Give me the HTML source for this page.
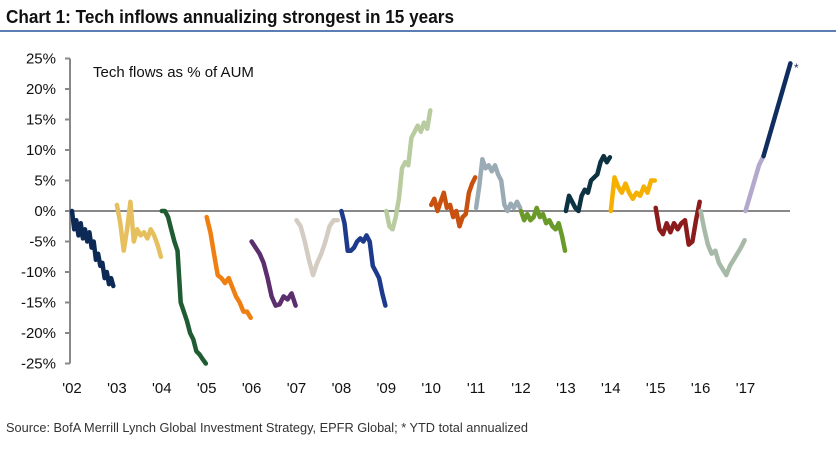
<!DOCTYPE html>
<html><head><meta charset="utf-8"><style>
body{margin:0;background:#fff;}
svg text{font-family:"Liberation Sans",sans-serif;}
</style></head><body>
<svg id="c" width="836" height="451" viewBox="0 0 836 451" xmlns="http://www.w3.org/2000/svg">
<text x="6" y="23" font-size="18" font-weight="bold" fill="#111" textLength="448" lengthAdjust="spacingAndGlyphs">Chart 1: Tech inflows annualizing strongest in 15 years</text>
<rect x="0" y="30" width="836" height="2" fill="#5b7fb3"/>
<text x="93" y="77" font-size="15" fill="#111">Tech flows as % of AUM</text>
<text x="6" y="432" font-size="12.5" fill="#333" textLength="522" lengthAdjust="spacingAndGlyphs">Source: BofA Merrill Lynch Global Investment Strategy, EPFR Global; * YTD total annualized</text>
<g id="axes"></g><g id="series"></g>
<text x="794" y="72" font-size="12" fill="#1a2f5c">*</text>
</svg>
<script>
const yTicks=[25,20,15,10,5,0,-5,-10,-15,-20,-25];
const xTickLabels=["'02","'03","'04","'05","'06","'07","'08","'09","'10","'11","'12","'13","'14","'15","'16","'17"];
const seriesStarts=[2002.0,2003.0,2004.0,2005.0,2006.0,2007.0,2008.0,2009.0,2010.0,2011.0,2012.0,2013.0,2014.0,2015.0,2016.0,2017.0,2017.4];
const seriesEnds=[2002.92,2003.98,2004.98,2005.98,2006.98,2007.92,2008.98,2009.98,2010.98,2011.98,2012.98,2013.98,2014.98,2015.98,2016.98,2017.4,2018.0];
const seriesColors=["#0c2a55","#e6c05e","#1f5c33","#f07f12","#5b2e6e","#d4ccc2","#1d3a8c","#b8cca0","#c8510f","#9aabb6","#6a9a2a","#0d3242","#f5b000","#8c1b1b","#a7b9a7","#b4a8cc","#0f2d5e"];
const s2002=[0,-3,-1.5,-4,-2,-4.5,-3,-5,-3.5,-6,-5,-8,-7,-9,-8.5,-11,-10,-12,-11,-12.3];
const s2003=[1,-2,-6.5,-3,1.5,-5,-3,-4,-3.5,-4.5,-3,-4,-5.5,-7.5];
const s2004=[0,0,-1,-3,-5,-6.5,-15,-16.5,-18,-20,-21,-23,-23.5,-24.3,-25];
const s2005=[-1,-3.5,-7,-10.5,-11,-11.8,-11,-12.5,-14,-15,-16.5,-16.5,-17.5];
const s2006=[-5,-6,-7,-8.5,-11,-14,-15.5,-15.3,-14,-14.5,-13.5,-15.5];
const s2007=[-1.5,-2.5,-5,-8,-10.5,-8.5,-7,-5,-2.5,-1.5,-1.5];
const s2008=[0,-2,-6.5,-6.5,-6,-5,-4.5,-5,-4,-5,-9,-10,-11,-13.5,-15.5];
const s2009=[0,-2.5,-3,-1,2,7,8,7.5,12,13,14,13,14.5,13.5,16.5];
const s2010=[1,2,0,1.5,3,0.5,1,-1,0,-2.5,-1,-0.5,3,4.5,5.5];
const s2011=[0.5,4,8.5,7,7.5,6.5,7.5,6,5,1,0,1.2,0.5,1.5,0.5];
const s2012=[0,-1.5,-0.5,-1.5,-1,0.5,-1,-0.5,-2,-1.5,-2.5,-3,-2,-4,-6.5];
const s2013=[0,2.5,1.5,0.5,0,2.5,3.5,3,5,5.5,6,8,9,8,8.8];
const s2014=[0,5.5,4,3,4.5,3,2,3,2.5,4,3,5,5];
const s2015=[0.5,-3,-3.8,-2,-3.5,-2,-3,-2,-1.5,-5.5,-5,-1.5,1.5];
const s2016=[0,-3,-5.5,-7,-6.5,-8.5,-9.5,-10.5,-9,-8,-7,-6,-4.8];
const s2017a=[0,2.5,5,7.5,9];
const s2017b=[9,24.2];
const seriesValues=[s2002,s2003,s2004,s2005,s2006,s2007,s2008,s2009,s2010,s2011,s2012,s2013,s2014,s2015,s2016,s2017a,s2017b];
const NS="http://www.w3.org/2000/svg";
const X0=72,XW=44.9,Y0=211,YS=6.1;
function xs(t){return X0+(t-2002)*XW;}
function ys(v){return Y0-v*YS;}
function mk(tag,at,parent){const e=document.createElementNS(NS,tag);for(const k in at)e.setAttribute(k,at[k]);parent.appendChild(e);return e;}
const ax=document.getElementById('axes');
const yl=mk('line',{x1:70,x2:70,y1:ys(25),y2:ys(-25),stroke:'#888','stroke-width':2},ax);


yTicks.forEach(v=>{
 const t=mk('line',{x1:65,x2:70,y1:ys(v),y2:ys(v),stroke:'#888','stroke-width':2},ax);
 
 
 const l=mk('text',{x:56,y:ys(v)+5,'font-size':15,'text-anchor':'end',fill:'#111'},ax);
 l.textContent=v+'%';
 
 
});
xTickLabels.forEach((s,i)=>{
 const l=mk('text',{x:xs(2002+i),y:393,'font-size':15,'text-anchor':'middle',fill:'#111'},ax);
 l.textContent=s;
 
 
});
const zl=mk('line',{x1:70,x2:790,y1:ys(0),y2:ys(0),stroke:'#888','stroke-width':2},ax);


const sg=document.getElementById('series');
seriesValues.forEach((vals,i)=>{
 const a=seriesStarts[i],b=seriesEnds[i],n=vals.length;
 const pts=vals.map((v,j)=>xs(a+(b-a)*j/(n-1)).toFixed(1)+','+ys(v).toFixed(1)).join(' ');
 const p=mk('polyline',{points:pts,fill:'none',stroke:seriesColors[i],'stroke-width':4.5,'stroke-linejoin':'round','stroke-linecap':'round'},sg);
 
 
});
</script>
</body></html>
